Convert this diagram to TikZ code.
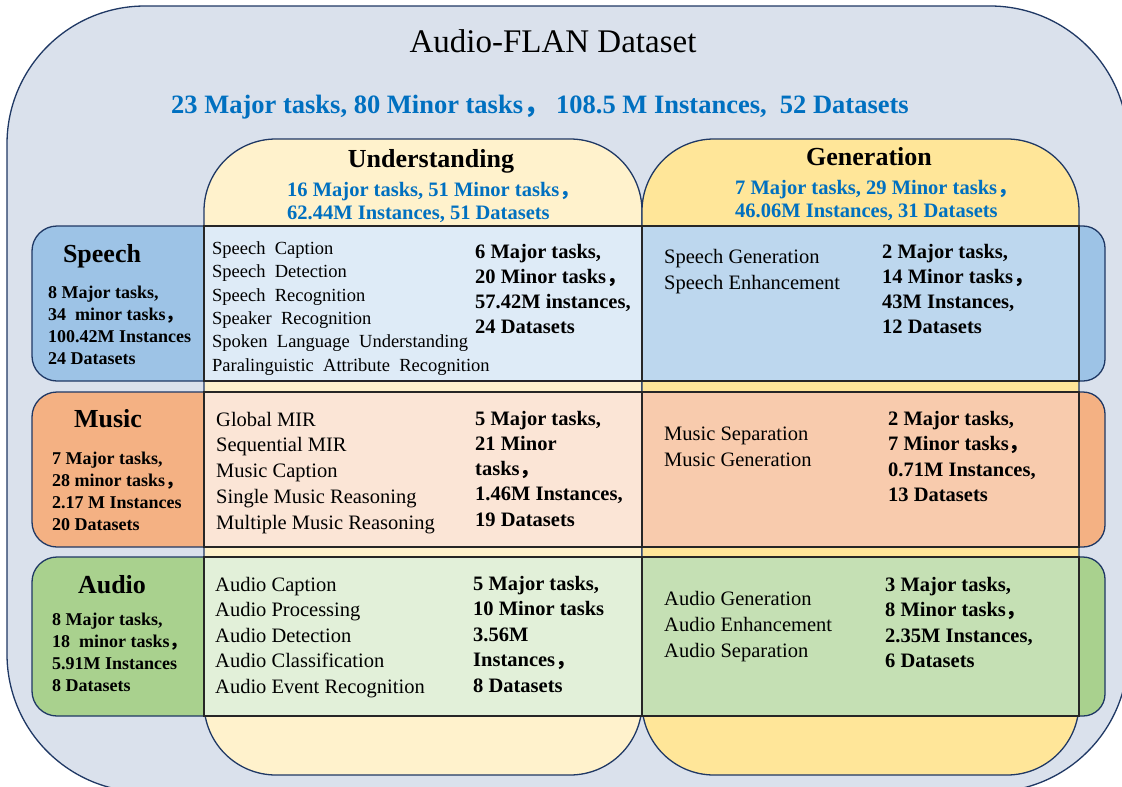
\documentclass[tikz,border=0pt]{standalone}
\usepackage{fontspec}
\setmainfont{Liberation Serif}
\newfontfamily\cjkfont{Noto Sans CJK SC}
\newcommand{\fc}{{\cjkfont ，}}
\definecolor{navy}{HTML}{1F3864}
\definecolor{outerc}{HTML}{DAE1EC}
\definecolor{undc}{HTML}{FFF2CC}
\definecolor{genc}{HTML}{FFE699}
\definecolor{spL}{HTML}{9DC3E6}
\definecolor{spU}{HTML}{DEEBF7}
\definecolor{spG}{HTML}{BDD7EE}
\definecolor{muL}{HTML}{F4B183}
\definecolor{muU}{HTML}{FBE5D6}
\definecolor{muG}{HTML}{F8CBAD}
\definecolor{auL}{HTML}{A9D18E}
\definecolor{auU}{HTML}{E2F0D9}
\definecolor{auG}{HTML}{C5E0B4}
\definecolor{bluetxt}{HTML}{0070C0}
\begin{document}
\begin{tikzpicture}[x=1pt,y=-1pt,
  colbox/.style={draw=navy,line width=1.3pt,rounded corners=72},
  leftbox/.style={draw=navy,line width=1.3pt,rounded corners=25},
  rightbox/.style={draw=navy,line width=1.3pt,rounded corners=22},
  cellbox/.style={draw=black!85,line width=1.1pt},
  txt/.style={inner sep=0pt,anchor=base west},
  ctxt/.style={inner sep=0pt,anchor=base},
  headf/.style={ctxt,font=\fontsize{26}{30}\selectfont\bfseries},
  leftstat/.style={txt,font=\fontsize{18}{22}\selectfont\bfseries},
  stat/.style={txt,font=\fontsize{20.5}{25}\selectfont\bfseries},
  lstS/.style={txt,font=\fontsize{18.5}{22}\selectfont},
  lst/.style={txt,font=\fontsize{20.5}{25}\selectfont},
  bsub/.style={txt,font=\fontsize{20.5}{24}\selectfont\bfseries,text=bluetxt}]
\useasboundingbox (0,0) rectangle (1122,787);
\clip (0,0) rectangle (1122,787);
\fill[white] (0,0) rectangle (1122,787);
% outer box
\path[draw=navy,fill=outerc,line width=1.3pt,rounded corners=138] (7,6) rectangle (1128,792);
\node[ctxt,font=\fontsize{33}{38}\selectfont] (title) at (553,52) {Audio-FLAN Dataset};
\node[ctxt,font=\fontsize{26.5}{30}\selectfont\bfseries,text=bluetxt] (total) at (540,113)
  {23 Major tasks, 80 Minor tasks\fc\ 108.5 M Instances,\ \ 52 Datasets};
% columns
\path[colbox,fill=undc] (204,139) rectangle (642,775);
\path[colbox,fill=genc] (642,139) rectangle (1079,775);
\node[headf] (und) at (431,167) {Understanding};
\node[headf] (gen) at (869,165) {Generation};
\node[bsub] (und1) at (287,196) {16 Major tasks, 51 Minor tasks\fc};
\node[bsub] (und2) at (287,219) {62.44M Instances, 51 Datasets};
\node[bsub] (gen1) at (735,194) {7 Major tasks, 29 Minor tasks\fc};
\node[bsub] (gen2) at (735,217) {46.06M Instances, 31 Datasets};
% ---------- Speech row
\path[leftbox,fill=spL] (204,226) -- (32,226) -- (32,381) -- (204,381);
\path[rightbox,fill=spL] (1079,226) -- (1105,226) -- (1105,381) -- (1079,381);
\path[cellbox,fill=spU] (204,226) rectangle (642,381);
\path[cellbox,fill=spG] (642,226) rectangle (1079,381);
\node[headf] (sp) at (102,262) {Speech};
\foreach \t [count=\i from 0] in {{8 Major tasks,},{34\ \ minor tasks\fc},{100.42M Instances},{24 Datasets}}
  \node[leftstat] (spl\i) at (48,{298+22*\i}) {\t};
\foreach \t [count=\i from 0] in {Speech\ \ Caption,Speech\ \ Detection,Speech\ \ Recognition,Speaker\ \ Recognition,Spoken\ \ Language\ \ Understanding,Paralinguistic\ \ Attribute\ \ Recognition}
  \node[lstS] (spu\i) at (212,{254.5+23.3*\i}) {\t};
\foreach \t [count=\i from 0] in {{6 Major tasks,},{20 Minor tasks\fc},{57.42M instances,},{24 Datasets}}
  \node[stat] (sps\i) at (475,{258+25.3*\i}) {\t};
\foreach \t [count=\i from 0] in {Speech Generation,Speech Enhancement}
  \node[lst] (spg\i) at (664,{263+26*\i}) {\t};
\foreach \t [count=\i from 0] in {{2 Major tasks,},{14 Minor tasks\fc},{43M Instances,},{12 Datasets}}
  \node[stat] (spgs\i) at (882,{258+25.3*\i}) {\t};
% ---------- Music row
\path[leftbox,fill=muL] (204,392) -- (32,392) -- (32,547) -- (204,547);
\path[rightbox,fill=muL] (1079,392) -- (1105,392) -- (1105,547) -- (1079,547);
\path[cellbox,fill=muU] (204,392) rectangle (642,547);
\path[cellbox,fill=muG] (642,392) rectangle (1079,547);
\node[headf] (mu) at (108,427) {Music};
\foreach \t [count=\i from 0] in {{7 Major tasks,},{28 minor tasks\fc},{2.17 M Instances},{20 Datasets}}
  \node[leftstat] (mul\i) at (52,{464+22*\i}) {\t};
\foreach \t [count=\i from 0] in {Global MIR,Sequential MIR,Music Caption,Single Music Reasoning,Multiple Music Reasoning}
  \node[lst] (muu\i) at (216,{426+25.8*\i}) {\t};
\foreach \t [count=\i from 0] in {{5 Major tasks,},{21 Minor},{tasks\fc},{1.46M Instances,},{19 Datasets}}
  \node[stat] (mus\i) at (475,{425+25.3*\i}) {\t};
\foreach \t [count=\i from 0] in {Music Separation,Music Generation}
  \node[lst] (mug\i) at (664,{440+26*\i}) {\t};
\foreach \t [count=\i from 0] in {{2 Major tasks,},{7 Minor tasks\fc},{0.71M Instances,},{13 Datasets}}
  \node[stat] (mugs\i) at (888,{425+25.5*\i}) {\t};
% ---------- Audio row
\path[leftbox,fill=auL] (204,557) -- (32,557) -- (32,716) -- (204,716);
\path[rightbox,fill=auL] (1079,557) -- (1105,557) -- (1105,716) -- (1079,716);
\path[cellbox,fill=auU] (204,557) rectangle (642,716);
\path[cellbox,fill=auG] (642,557) rectangle (1079,716);
\node[headf] (au) at (112,593) {Audio};
\foreach \t [count=\i from 0] in {{8 Major tasks,},{18\ \ minor tasks\fc},{5.91M Instances},{8 Datasets}}
  \node[leftstat] (aul\i) at (52,{625+22*\i}) {\t};
\foreach \t [count=\i from 0] in {Audio Caption,Audio Processing,Audio Detection,Audio Classification,Audio Event Recognition}
  \node[lst] (auu\i) at (215,{591+25.5*\i}) {\t};
\foreach \t [count=\i from 0] in {{5 Major tasks,},{10 Minor tasks},{3.56M},{Instances\fc},{8 Datasets}}
  \node[stat] (aus\i) at (473,{590+25.5*\i}) {\t};
\foreach \t [count=\i from 0] in {Audio Generation,Audio Enhancement,Audio Separation}
  \node[lst] (aug\i) at (664,{605+26*\i}) {\t};
\foreach \t [count=\i from 0] in {{3 Major tasks,},{8 Minor tasks\fc},{2.35M Instances,},{6 Datasets}}
  \node[stat] (augs\i) at (885,{591+25.5*\i}) {\t};
\end{tikzpicture}
\end{document}
